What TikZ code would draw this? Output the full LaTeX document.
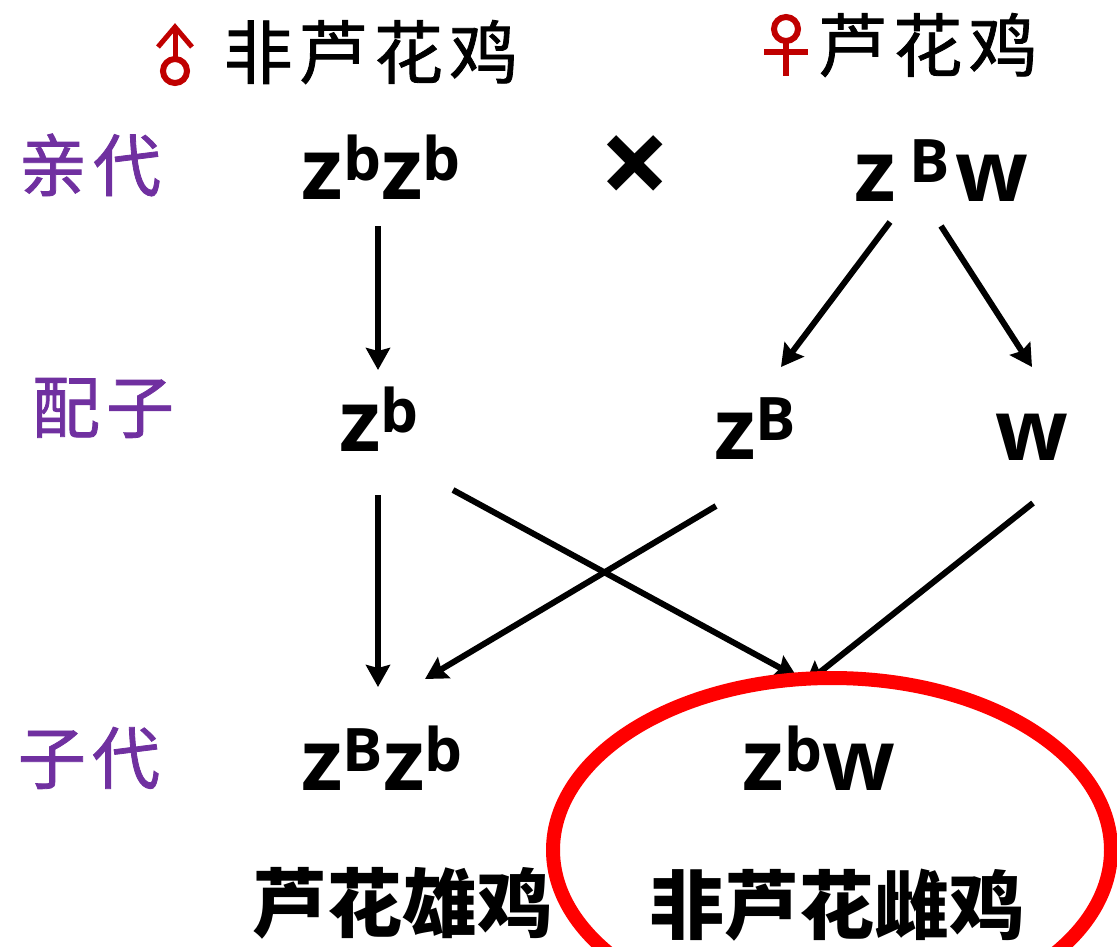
\documentclass[tikz,border=0pt]{standalone}
\usepackage{fontspec}
\setmainfont{Open Sans}
\newfontfamily\cjk{Noto Sans CJK SC}
\newfontfamily\cjkwide[LetterSpace=9,FakeBold=1.2]{Noto Sans CJK SC}
\usetikzlibrary{arrows.meta}
\definecolor{gtext}{RGB}{112,48,160}
\definecolor{sexred}{RGB}{192,0,0}
\newcommand{\gsup}[1]{\raisebox{19pt}{\fontsize{60}{60}\selectfont\bfseries #1}}
\tikzset{
  gene/.style={font=\fontsize{85}{85}\selectfont\bfseries,inner sep=0pt,anchor=base},
  gen/.style={font=\cjkwide\fontsize{68}{68}\selectfont,text=gtext,inner sep=0pt},
  title/.style={font=\cjkwide\fontsize{69}{69}\selectfont,inner sep=0pt},
  pheno/.style={font=\cjk\fontsize{75}{75}\selectfont\bfseries,inner sep=0pt},
  cross/.style={line width=6pt,-{Stealth[length=22pt,width=24pt,inset=3pt]}},
}
\begin{document}
\begin{tikzpicture}[x=1pt,y=-1pt]
\useasboundingbox (0,0) rectangle (1117,946);
\clip (0,0) rectangle (1117,946);
%titles
\draw[sexred,line width=6pt] (175,71) circle (12);
\draw[sexred,line width=5pt] (175,59) -- (175,28);
\draw[sexred,line width=5pt] (158,47) -- (175,27) -- (192,47);
\node[title] (male) at (371,52) {非芦花鸡};
\draw[sexred,line width=6pt] (786,29) circle (12);
\draw[sexred,line width=6pt] (786,41) -- (786,76);
\draw[sexred,line width=6pt] (764,52) -- (808,52);
\node[title] (female) at (928,45) {芦花鸡};
%generations
\node[gen] (parent) at (90,165) {亲代};
\node[gen] (gamete) at (103,408) {配子};
\node[gen] (child) at (89,758) {子代};
%genes
\node[gene] (pm) at (381,199) {z\gsup{b}z\gsup{b}};
\node[font=\fontsize{125}{125}\selectfont\bfseries,inner sep=0pt] (x) at (635,172) {×};
\node[gene] (pf) at (941,201) {z\,\gsup{B}\kern5pt w};
\node[gene] (gb) at (379,451) {z\gsup{b}};
\node[gene] (gB) at (755,459) {z\gsup{B}};
\node[gene] (gw) at (1032,460) {w};
\node[gene] (cm) at (382,790) {z\gsup{B}z\gsup{b}};
\node[gene] (cf) at (819,790) {z\gsup{b}w};
\node[pheno] (lm) at (402,903) {芦花雄鸡};
\node[pheno] (lf) at (837,905) {非芦花雌鸡};
%anchors for the arrows
\coordinate (a1) at (378,226);
\coordinate (a2) at (378,370);
\coordinate (b1) at (890,222);
\coordinate (b2) at (781,367);
\coordinate (c1) at (941,226);
\coordinate (c2) at (1032,367);
\coordinate (d1) at (378,495);
\coordinate (d2) at (378,687);
\coordinate (e1) at (453,490);
\coordinate (e2) at (797,677);
\coordinate (f1) at (716,506);
\coordinate (f2) at (425,679);
\coordinate (g1) at (1033,503);
\coordinate (g2) at (805,684);
\draw[cross] (a1) -- (a2);
\draw[cross] (b1) -- (b2);
\draw[cross] (c1) -- (c2);
\draw[cross] (d1) -- (d2);
\draw[cross] (e1) -- (e2);
\draw[cross] (f1) -- (f2);
\draw[cross] (g1) -- (g2);
\draw[red,line width=14pt] (832,850) ellipse (279 and 172);
\end{tikzpicture}
\end{document}
